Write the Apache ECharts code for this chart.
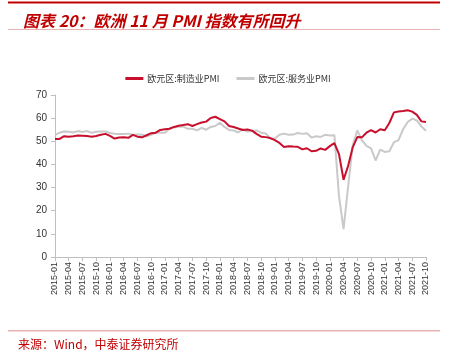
<!DOCTYPE html>
<html><head><meta charset="utf-8">
<script src="https://cdn.jsdelivr.net/npm/echarts@6/dist/echarts.min.js"></script>
<style>html,body{margin:0;padding:0;background:#fff}#c{width:456px;height:358px}</style>
</head><body><div id="c"></div>
<script>
const categories = (function(){const a=[];for(let y=2015;y<=2021;y++){for(let m=1;m<=12;m++){if(y===2021&&m>10)break;a.push(y+'-'+String(m).padStart(2,'0'));}}return a;})();
const manufacturing = [
51.0,51.0,52.2,52.0,52.2,52.5,52.4,52.3,52.0,52.3,52.8,53.2,
52.3,51.2,51.6,51.7,51.5,52.8,52.0,51.7,52.6,53.5,53.7,54.9,
55.2,55.4,56.2,56.7,57.0,57.4,56.6,57.4,58.1,58.5,60.1,60.6,
59.6,58.6,56.6,56.2,55.5,54.9,55.1,54.6,53.2,52.0,51.8,51.4,
50.5,49.3,47.5,47.9,47.7,47.6,46.5,47.0,45.7,45.9,46.9,46.3,
47.9,49.2,44.5,33.4,39.4,47.4,51.8,51.7,53.7,54.8,53.8,55.2,
54.8,57.9,62.5,62.9,63.1,63.4,62.8,61.4,58.6,58.3];
const services = [
52.7,53.7,54.2,54.1,53.8,54.4,54.0,54.4,53.7,54.1,54.2,54.2,
53.6,53.3,53.1,53.1,53.3,52.8,52.9,52.8,52.2,52.8,53.8,53.7,
53.7,55.5,56.0,56.4,56.3,55.4,55.4,54.7,55.8,55.0,56.2,56.6,
58.0,56.2,54.9,54.7,53.8,55.2,54.2,54.4,54.7,53.7,53.4,51.2,
51.2,52.8,53.3,52.8,52.9,53.6,53.2,53.5,51.6,52.2,51.9,52.8,
52.5,52.6,26.4,12.0,30.5,48.3,54.7,50.5,48.0,46.9,41.7,46.4,
45.4,45.7,49.6,50.5,55.2,58.3,59.8,59.0,56.4,54.6];
const seriesNames = ['欧元区:制造业PMI','欧元区:服务业PMI'];
const titleText = '图表 20：欧洲 11 月 PMI 指数有所回升';
const sourceText = '来源：Wind，中泰证券研究所';

const chart = echarts.init(document.getElementById('c'), null, {renderer:'canvas'});
const RED = '#C00000';
chart.setOption({
  animation:false,
  backgroundColor:'#fff',
  title:{text:titleText,left:18,top:8,textStyle:{color:RED,fontSize:16,fontWeight:'bold',fontStyle:'italic',fontFamily:'"Noto Sans CJK SC", Arial, sans-serif'}},
  graphic:[
    {type:'rect',shape:{x:8,y:1.5,width:432,height:2},style:{fill:RED},silent:true},
    {type:'rect',shape:{x:8,y:29,width:432,height:0.8},style:{fill:'#E29A9A'},silent:true},
    {type:'rect',shape:{x:8,y:330.5,width:432,height:0.8},style:{fill:'#D86A6A'},silent:true},
    {type:'text',left:18,top:338,style:{text:sourceText,fill:RED,fontSize:12,fontFamily:'"Noto Sans CJK SC", sans-serif'},silent:true}
  ],
  legend:{top:69,left:'center',itemGap:17,itemWidth:18,itemHeight:3,icon:'rect',
    textStyle:{fontSize:9,color:'#333',fontFamily:'"Noto Sans CJK SC", serif',padding:[0,0,0,-1]},
    data:seriesNames},
  grid:{left:55,right:30,top:95,bottom:101,containLabel:false},
  xAxis:{type:'category',data:categories,boundaryGap:false,
    axisLine:{lineStyle:{color:'#BFBFBF',width:1}},
    axisTick:{interval:2,length:4,lineStyle:{color:'#BFBFBF'}},
    axisLabel:{interval:2,rotate:90,fontSize:9,color:'#333',fontFamily:'Arial, "Liberation Sans", sans-serif',margin:5},
    splitLine:{show:false}},
  yAxis:{type:'value',min:0,max:70,interval:10,
    axisLine:{show:true,lineStyle:{color:'#BFBFBF',width:1}},
    axisTick:{show:true,length:4,lineStyle:{color:'#BFBFBF'}},
    axisLabel:{fontSize:10,color:'#333',fontFamily:'Arial, "Liberation Sans", sans-serif',margin:8},
    splitLine:{show:false}},
  series:[
    {name:seriesNames[0],type:'line',data:manufacturing,symbol:'none',smooth:false,lineStyle:{color:'#C8102E',width:2},itemStyle:{color:'#C8102E'},z:3},
    {name:seriesNames[1],type:'line',data:services,symbol:'none',smooth:false,lineStyle:{color:'#C9C9C9',width:2},itemStyle:{color:'#C9C9C9'},z:2}
  ]
});
</script></body></html>
